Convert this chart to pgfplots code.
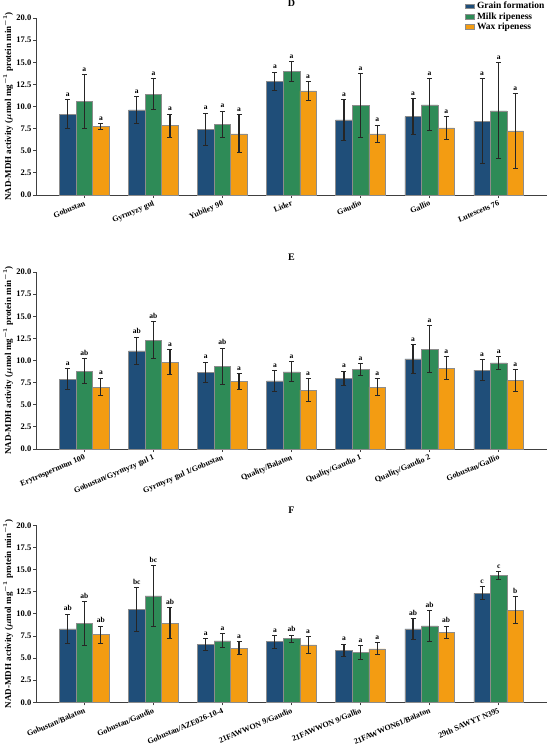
\documentclass[border=0pt]{standalone}
\usepackage{pgfplots}
\pgfplotsset{compat=1.18}
\usepackage{pgfplotstable}
\usepackage{fontspec}
\setmainfont{Liberation Serif}
\definecolor{cGF}{HTML}{1F4E79}
\definecolor{cMR}{HTML}{2E8B57}
\definecolor{cWR}{HTML}{F39C12}

\pgfplotstableread{
x gf gfe gfl mr mre mrl wr wre wrl
0 9.13 1.66 a 10.55 3.07 a 7.74 0.30 a
1 9.62 1.50 a 11.40 1.75 a 7.85 1.30 a
2 7.43 1.83 a 7.96 1.50 a 6.92 2.13 a
3 12.83 1.04 a 13.96 1.10 a 11.77 1.04 a
4 8.49 2.30 a 10.11 3.62 a 6.90 1.00 a
5 8.87 2.00 a 10.19 2.94 a 7.58 1.28 a
6 8.34 4.80 a 9.51 5.42 a 7.25 4.20 a
}\tabD
\pgfplotstableread{
x gf gfe gfl mr mre mrl wr wre wrl
0 7.89 1.20 a 8.80 1.40 ab 6.99 1.00 a
1 11.09 1.54 ab 12.29 2.10 ab 9.81 1.40 a
2 8.65 1.17 a 9.32 2.07 ab 7.63 0.85 a
3 7.71 1.17 a 8.72 1.13 a 6.65 1.28 a
4 8.00 0.80 a 8.98 0.70 a 6.99 0.94 a
5 10.19 1.62 a 11.28 2.66 a 9.14 1.26 a
6 8.91 1.20 a 9.74 0.73 a 7.74 1.25 a
}\tabE
\pgfplotstableread{
x gf gfe gfl mr mre mrl wr wre wrl
0 8.29 1.68 ab 8.89 2.45 ab 7.65 0.96 ab
1 10.51 2.47 bc 12.02 3.46 bc 8.96 1.70 ab
2 6.52 0.68 a 6.93 0.79 a 6.10 0.75 a
3 6.85 0.72 a 7.19 0.41 ab 6.48 0.96 a
4 5.84 0.72 a 5.61 0.77 a 6.03 0.68 a
5 8.29 1.20 ab 8.63 1.71 ab 7.91 0.70 ab
6 12.32 0.75 c 14.31 0.43 c 10.43 1.52 b
}\tabF

\pgfplotsset{
  panel/.style={
    scale only axis, width=511pt, height=177pt,
    xmin=-0.70, xmax=6.70, ymin=0, ymax=20,
    axis lines*=left,
    axis line style={draw=black!75, line width=0.8pt},
    tick style={draw=black!75, line width=0.8pt},
    tick align=outside, major tick length=3pt,
    ytick={0,2.5,5,7.5,10,12.5,15,17.5,20},
    yticklabel style={font=\fontsize{8.5}{9}\selectfont\bfseries, inner sep=1.5pt,
      /pgf/number format/fixed, /pgf/number format/fixed zerofill, /pgf/number format/precision=1,
      /pgf/number format/assume math mode=true},
    xtick={0,1,2,3,4,5,6},
    xticklabel style={font=\fontsize{8}{9}\selectfont\bfseries, rotate=23, anchor=north east, inner sep=1.5pt},
    ylabel={NAD-MDH activity ($\mu$mol mg$^{-1}$ protein min$^{-1}$)},
    ylabel style={font=\fontsize{9}{10}\selectfont\bfseries\boldmath, at={(axis description cs:-0.0548,0.5)}, anchor=center},
    title style={font=\fontsize{10}{11}\selectfont\bfseries, at={(axis description cs:0.5,1)}, anchor=base, yshift=5.5pt},
    legend image code/.code={\draw[##1, draw=black!45, line width=0.4pt] (0pt,-2.4pt) rectangle (9pt,2.4pt);},
  },
  barsty/.style={ybar, bar width=0.24, bar shift=0pt, draw=black!45, line width=0.5pt,
    error bars/y dir=both, error bars/y explicit,
    error bars/error mark=|,
    error bars/error bar style={line width=1.1pt, black!85},
    error bars/error mark options={mark size=2.5pt, line width=1pt, black!85}},
  letsty/.style={forget plot, only marks, mark=*, mark size=0pt, mark options={draw=none, fill=none},
    nodes near coords, point meta=explicit symbolic,
    nodes near coords style={font=\fontsize{7.5}{8}\selectfont\bfseries, anchor=base, yshift=3.3pt, inner sep=0pt, text=black}},
}

\newcommand\panelplots[1]{%
  \addplot[barsty, fill=cGF] table[x expr=\thisrow{x}-0.24, y=gf, y error=gfe]{#1};
  \addplot[barsty, fill=cMR] table[x expr=\thisrow{x}, y=mr, y error=mre]{#1};
  \addplot[barsty, fill=cWR] table[x expr=\thisrow{x}+0.24, y=wr, y error=wre]{#1};
  \addplot[letsty] table[x expr=\thisrow{x}-0.24, y expr=\thisrow{gf}+\thisrow{gfe}, meta=gfl]{#1};
  \addplot[letsty] table[x expr=\thisrow{x}, y expr=\thisrow{mr}+\thisrow{mre}, meta=mrl]{#1};
  \addplot[letsty] table[x expr=\thisrow{x}+0.24, y expr=\thisrow{wr}+\thisrow{wre}, meta=wrl]{#1};
}

\begin{document}
\begin{tikzpicture}
\begin{axis}[panel, at={(36pt,-195pt)}, anchor=south west, title={D},
  xticklabels={Gobustan, Gyrmyzy gul, Yubiley 90, Lider, Gaudio, Gallio, Lutescens 76},
  legend style={at={(axis description cs:1,1)}, anchor=north east, yshift=16.8pt, draw=none, fill=none, inner sep=0pt,
    font=\fontsize{9.5}{10}\selectfont\bfseries, row sep=0.6pt,
    nodes={inner ysep=0.8pt, inner xsep=2.5pt, text height=6.5pt, text depth=1.6pt}},
  legend cell align=left]
\panelplots{\tabD}
\legend{Grain formation, Milk ripeness, Wax ripeness}
\end{axis}
\begin{axis}[panel, at={(36pt,-449pt)}, anchor=south west, title={E},
  xticklabels={Erytrospermum 100, Gobustan/Gyrmyzy gul 1, Gyrmyzy gul 1/Gobustan, Quality/Balaton, Quality/Gaudio 1, Quality/Gaudio 2, Gobustan/Gallio}]
\panelplots{\tabE}
\end{axis}
\begin{axis}[panel, at={(36pt,-702.3pt)}, anchor=south west, title={F},
  xticklabels={Gobustan/Balaton, Gobustan/Gaudio, Gobustan/AZE026-10-4, 21FAWWON 9/Gaudio, 21FAWWON 9/Gallio, 21FAWWON61/Balaton, 29th SAWYT N395}]
\panelplots{\tabF}
\end{axis}
\pgfresetboundingbox
\useasboundingbox (0,0) rectangle (550pt,-752pt);
\end{tikzpicture}
\end{document}
